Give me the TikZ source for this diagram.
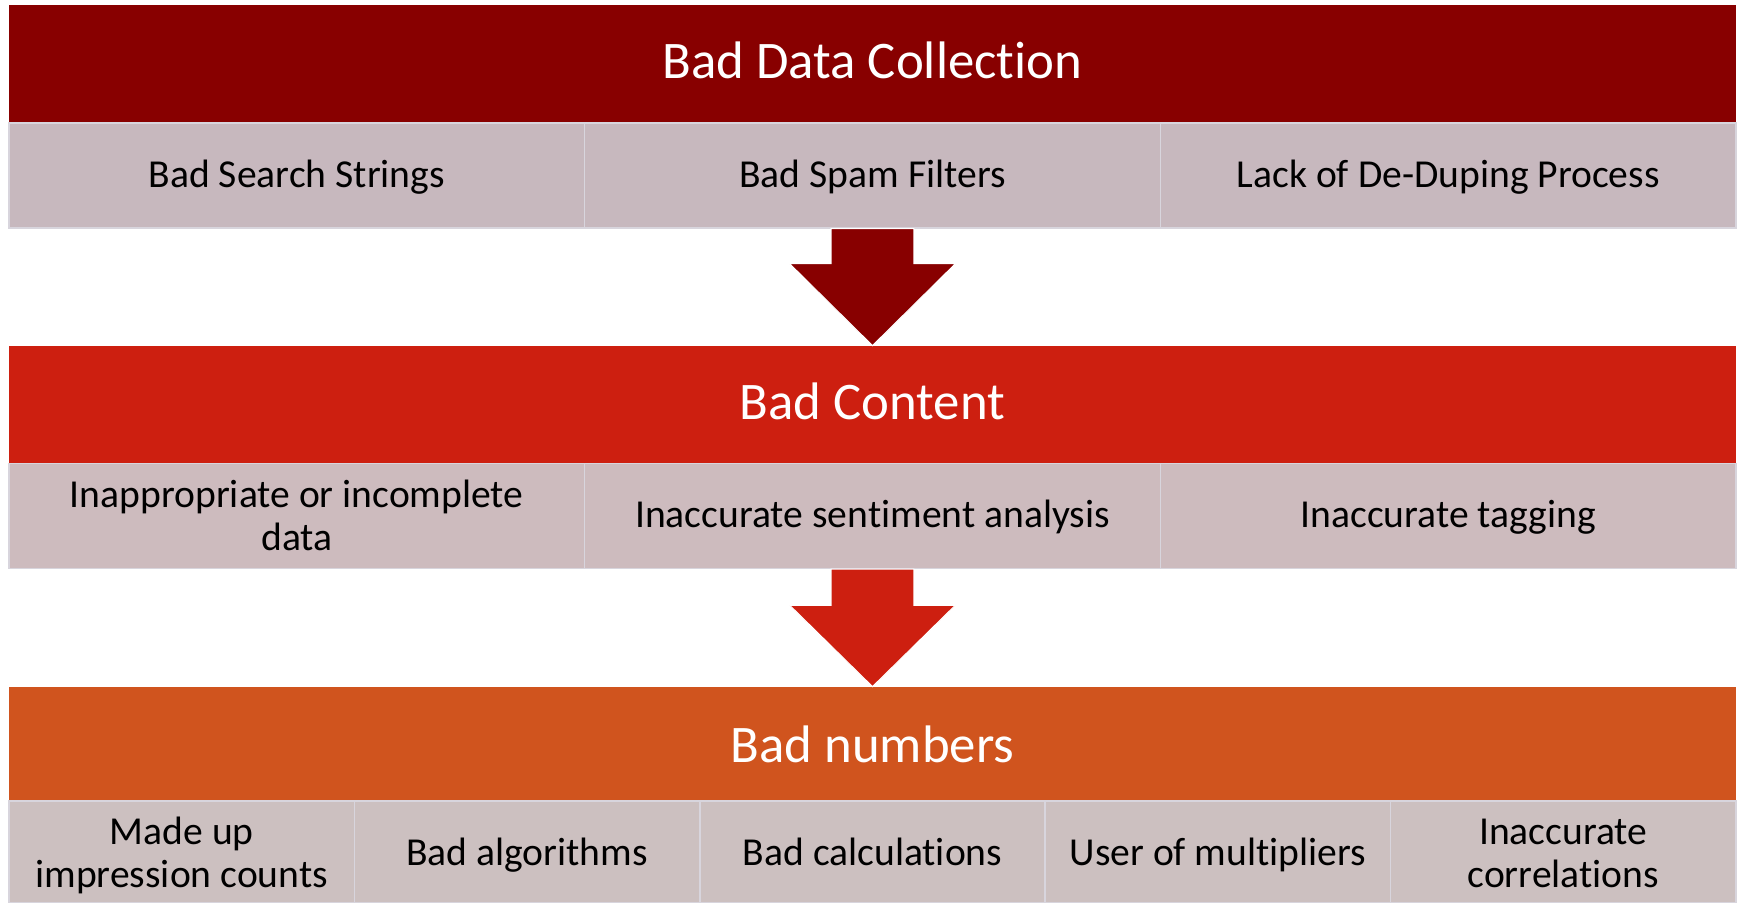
\documentclass[tikz,border=0pt]{standalone}
\usepackage{fontspec}
\setmainfont{Carlito}[Ligatures={NoCommon}]
\usetikzlibrary{calc}

\definecolor{darkred}{HTML}{880000}
\definecolor{brightred}{HTML}{CD1F10}
\definecolor{rust}{HTML}{D0541E}
\definecolor{mauveA}{HTML}{C7B8BE}
\definecolor{mauveB}{HTML}{CDBBBE}
\definecolor{mauveC}{HTML}{CCC0C0}
\definecolor{cellline}{HTML}{D8D5DD}

\begin{document}
\begin{tikzpicture}[
        x=0.5pt, y=-0.5pt,
        band/.style={rectangle, inner sep=0pt, minimum width=863.5pt, text=white,
                     font=\fontsize{26.4}{30}\selectfont,
                     execute at begin node={\rule{0pt}{#1}},
                     execute at end node={\rule[-7.3pt]{0pt}{7.3pt}}},
        band/.default=22pt,
        cell/.style={rectangle, draw=cellline, line width=0.75pt, inner sep=0pt,
                     align=center, font=\fontsize{19.8}{21.5}\selectfont,
                     execute at begin node={\rule{0pt}{#1}},
                     execute at end node={\rule[-6pt]{0pt}{6pt}}},
        wide/.style={cell=#1, minimum width=287.8pt, minimum height=52.5pt},
        wide/.default=17.8pt,
        narrow/.style={cell=#1, minimum width=172.7pt, minimum height=51pt},
        narrow/.default=19.8pt,
        flow/.style={draw=white, line width=0.5pt}
    ]
        \useasboundingbox (0,0) rectangle (1741,903);

        % Bandeaux principaux
        \node[band, fill=darkred, minimum height=59pt] (B1) at (872.5,64) {Bad Data Collection};
        \node[band, fill=brightred, minimum height=59pt] (B2) at (872.5,405) {Bad Content};
        \node[band=26pt, fill=rust, minimum height=57pt] (B3) at (872.5,744) {Bad numbers};

        % Causes sous chaque bandeau
        \node[wide, fill=mauveA] (C11) at (296.8,175.5) {Bad Search Strings};
        \node[wide, fill=mauveA] (C12) at (872.5,175.5) {Bad Spam Filters};
        \node[wide, fill=mauveA] (C13) at (1448.2,175.5) {Lack of De-Duping Process};

        \node[wide, fill=mauveB] (C21) at (296.8,516) {\rule{0pt}{19.3pt}Inappropriate or incomplete\\data};
        \node[wide, fill=mauveB] (C22) at (872.5,516) {Inaccurate sentiment analysis};
        \node[wide, fill=mauveB] (C23) at (1448.2,516) {Inaccurate tagging};

        \node[narrow, fill=mauveC] (C31) at (181.7,852) {\rule{0pt}{20.4pt}Made up\\impression counts};
        \node[narrow, fill=mauveC] (C32) at (527.1,852) {Bad algorithms};
        \node[narrow, fill=mauveC] (C33) at (872.5,852) {Bad calculations};
        \node[narrow, fill=mauveC] (C34) at (1217.9,852) {User of multipliers};
        \node[narrow, fill=mauveC] (C35) at (1563.3,852) {\rule{0pt}{20.4pt}Inaccurate\\correlations};

        % Flèches entre les étapes
        \fill[flow, fill=darkred] ($(C12.south)+(-41.3,0)$) -- ($(C12.south)+(41.3,0)$)
            -- ($(C12.south)+(41.3,35)$) -- ($(C12.south)+(82.8,35)$) -- (B2.north)
            -- ($(C12.south)+(-82.8,35)$) -- ($(C12.south)+(-41.3,35)$) -- cycle;
        \fill[flow, fill=brightred] ($(C22.south)+(-41.3,0)$) -- ($(C22.south)+(41.3,0)$)
            -- ($(C22.south)+(41.3,36)$) -- ($(C22.south)+(82.8,36)$) -- (B3.north)
            -- ($(C22.south)+(-82.8,36)$) -- ($(C22.south)+(-41.3,36)$) -- cycle;
    \end{tikzpicture}
\end{document}
